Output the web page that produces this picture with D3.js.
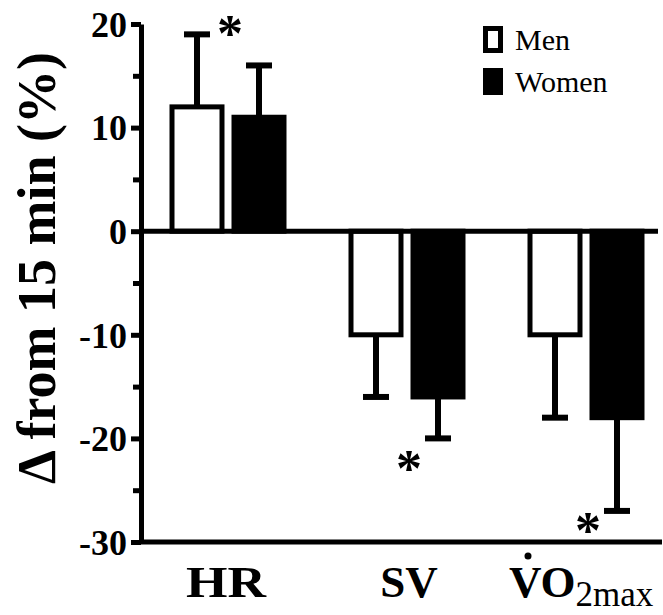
<!DOCTYPE html>
<html>
<head>
<meta charset="utf-8">
<script src="https://cdn.jsdelivr.net/npm/d3@7"></script>
<style>
  body { margin: 0; background: #fff; }
  svg { display: block; }
</style>
</head>
<body>
<svg id="chart" width="663" height="615"></svg>
<script>
// data
const categories = ["HR", "SV", "VO2max"];
const groups = ["Men", "Women"];
const menValues = [12, -10, -10];
const womenValues = [11, -16, -18];
const menErrors = [7, 6, 8];
const womenErrors = [5, 4, 9];
const starValues = [19.5, -22.5, -28.5];
const yTicks = [-30, -20, -10, 0, 10, 20];
const yMinorTicks = [-25, -15, -5, 5, 15];

const serif = "'Liberation Serif', 'Times New Roman', Times, serif";

const svg = d3.select("#chart").style("font-family", serif);

const x0 = d3.scaleBand()
    .domain(categories)
    .range([138.5, 675.5]);

const x1 = d3.scaleBand()
    .domain(groups)
    .range([0, x0.bandwidth()])
    .paddingInner(0.113)
    .paddingOuter(0.5);

const y = d3.scaleLinear()
    .domain([-30, 20])
    .range([542, 24]);

// build rows for bars
const rows = [];
categories.forEach((c, i) => {
  rows.push({ cat: c, grp: "Men", v: menValues[i], e: menErrors[i] });
  rows.push({ cat: c, grp: "Women", v: womenValues[i], e: womenErrors[i] });
});

const bw = x1.bandwidth();

// error bars (drawn first so bars cover the stem)
const errG = svg.append("g");
rows.forEach(d => {
  const cx = x0(d.cat) + x1(d.grp) + bw / 2;
  const end = d.v >= 0 ? d.v + d.e : d.v - d.e;
  errG.append("line")
      .attr("x1", cx).attr("x2", cx)
      .attr("y1", y(d.v)).attr("y2", y(end))
      .attr("stroke", "#000").attr("stroke-width", 6);
  errG.append("line")
      .attr("x1", cx - 13).attr("x2", cx + 13)
      .attr("y1", y(end)).attr("y2", y(end))
      .attr("stroke", "#000").attr("stroke-width", 6);
});

// bars
svg.append("g").selectAll("rect")
  .data(rows)
  .enter()
  .append("rect")
    .attr("x", d => x0(d.cat) + x1(d.grp) + 2.5)
    .attr("width", bw - 5)
    .attr("y", d => y(Math.max(0, d.v)))
    .attr("height", d => Math.abs(y(d.v) - y(0)))
    .attr("fill", d => d.grp === "Men" ? "#fff" : "#000")
    .attr("stroke", "#000")
    .attr("stroke-width", 5);

// zero line and bottom line
svg.append("line")
    .attr("x1", 141).attr("x2", 658)
    .attr("y1", y(0)).attr("y2", y(0))
    .attr("stroke", "#000").attr("stroke-width", 5);
svg.append("line")
    .attr("x1", 141).attr("x2", 662)
    .attr("y1", y(-30)).attr("y2", y(-30))
    .attr("stroke", "#000").attr("stroke-width", 5);

// y axis
const yAxis = svg.append("g")
    .attr("transform", "translate(141,0)")
    .call(d3.axisLeft(y).tickValues(yTicks).tickSize(10).tickSizeOuter(0).tickPadding(4)
      .tickFormat(d => String(d)));
yAxis.attr("font-family", null).attr("font-size", null);
yAxis.select(".domain").attr("stroke-width", 5);
yAxis.selectAll(".tick line").attr("stroke-width", 5);
yAxis.selectAll(".tick text")
    .style("font-family", serif)
    .attr("font-size", 36)
    .attr("font-weight", "bold")
    .attr("fill", "#000")
    .attr("dy", "0.34em");

svg.append("g")
    .attr("transform", "translate(141,0)")
    .call(d3.axisLeft(y).tickValues(yMinorTicks).tickSize(8).tickFormat(""))
    .call(g => g.select(".domain").remove())
    .selectAll(".tick line").attr("stroke-width", 5);

// y title
svg.append("text")
    .attr("transform", "translate(55,268) rotate(-90)")
    .attr("text-anchor", "middle")
    .style("font-family", serif)
    .attr("font-size", 54)
    .attr("font-weight", "bold")
    .text("\u0394 from 15 min (%)");

// category labels
const catLabels = svg.append("g");
catLabels.append("text")
    .attr("x", x0("HR") + x0.bandwidth() / 2 - 2)
    .attr("y", 597)
    .attr("text-anchor", "middle")
    .style("font-family", serif)
    .attr("font-size", 45)
    .attr("font-weight", "bold")
    .attr("textLength", 80)
    .attr("lengthAdjust", "spacingAndGlyphs")
    .text("HR");
catLabels.append("text")
    .attr("x", x0("SV") + x0.bandwidth() / 2 + 2)
    .attr("y", 597)
    .attr("text-anchor", "middle")
    .style("font-family", serif)
    .attr("font-size", 45)
    .attr("font-weight", "bold")
    .text("SV");
const vo = catLabels.append("text")
    .attr("x", 509)
    .attr("y", 597)
    .style("font-family", serif)
    .attr("font-size", 45);
vo.append("tspan").attr("font-weight", "bold").text("VO");
vo.append("tspan").attr("dy", 9).attr("font-size", 35).text("2max");
catLabels.append("circle")
    .attr("cx", 528).attr("cy", 556).attr("r", 3.5).attr("fill", "#000");

// significance stars
svg.append("g").selectAll("text")
  .data(categories)
  .enter()
  .append("text")
    .attr("x", d => x0(d) + x0.bandwidth() / 2 + 2)
    .attr("y", (d, i) => y(starValues[i]) + 22)
    .attr("text-anchor", "middle")
    .style("font-family", serif)
    .attr("font-size", 52)
    .attr("font-weight", "bold")
    .text("*");

// legend
const legend = svg.append("g").attr("transform", "translate(483,26)");
groups.forEach((g, i) => {
  const row = legend.append("g").attr("transform", `translate(0,${i * 42})`);
  row.append("rect")
      .attr("x", 2.5).attr("y", 2.5)
      .attr("width", 15).attr("height", 22)
      .attr("fill", g === "Men" ? "#fff" : "#000")
      .attr("stroke", "#000").attr("stroke-width", 5);
  row.append("text")
      .attr("x", 32).attr("y", 24)
      .style("font-family", serif)
      .attr("font-size", 30)
      .text(g);
});
</script>
</body>
</html>
